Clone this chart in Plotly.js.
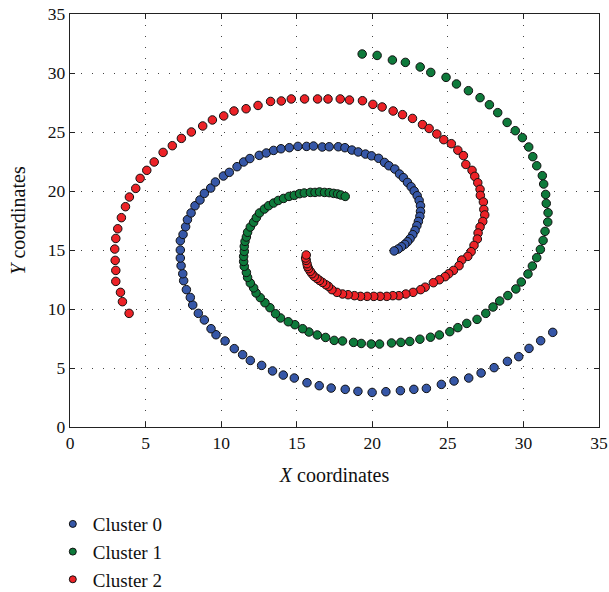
<!DOCTYPE html>
<html>
<head>
<meta charset="utf-8">
<script src="https://cdn.plot.ly/plotly-3.0.1.min.js"></script>
<style>html,body{margin:0;padding:0;background:#fff;}#chart{width:609px;height:592px;}</style>
</head>
<body>
<div id="chart"></div>
<script>
const clusterNames = ["Cluster 0", "Cluster 1", "Cluster 2"];

const cluster0 = [[31.94,8.02],[31.14,7.31],[30.37,6.66],[29.69,5.96],[28.94,5.56],[28.06,5.03],[27.2,4.58],[26.38,4.15],[25.41,3.9],[24.57,3.61],[23.58,3.27],[22.75,3.19],[21.86,3.08],[20.9,2.99],[19.99,2.93],[19.05,3.02],[18.21,3.19],[17.28,3.3],[16.49,3.5],[15.68,3.75],[14.84,4.15],[14.11,4.4],[13.4,4.75],[12.68,5.22],[11.93,5.64],[11.42,6.13],[10.87,6.64],[10.26,7.29],[9.66,7.82],[9.33,8.33],[8.89,9.07],[8.49,9.63],[8.12,10.34],[7.96,10.98],[7.7,11.64],[7.52,12.4],[7.46,12.99],[7.35,13.67],[7.3,14.32],[7.3,15.0],[7.3,15.79],[7.48,16.32],[7.65,16.97],[7.77,17.57],[8.01,18.14],[8.27,18.75],[8.6,19.24],[8.89,19.8],[9.31,20.25],[9.62,20.76],[10.15,21.27],[10.54,21.58],[11.05,22.06],[11.49,22.46],[11.9,22.75],[12.52,23.02],[12.99,23.22],[13.47,23.44],[13.96,23.58],[14.51,23.67],[15.08,23.78],[15.65,23.78],[16.11,23.81],[16.69,23.73],[17.15,23.75],[17.75,23.75],[18.19,23.67],[18.65,23.47],[19.07,23.31],[19.55,23.13],[19.95,22.98],[20.42,22.77],[20.81,22.42],[21.1,22.14],[21.49,21.86],[21.8,21.44],[22.06,21.13],[22.33,20.73],[22.57,20.36],[22.77,20.0],[22.97,19.6],[23.1,19.2],[23.19,18.75],[23.19,18.27],[23.15,17.85],[23.05,17.42],[22.95,17.06],[22.83,16.66],[22.68,16.3],[22.5,15.96],[22.33,15.7],[22.15,15.48],[21.93,15.28],[21.71,15.08],[21.45,14.92]];

const cluster1 = [[19.33,31.61],[20.32,31.49],[21.33,31.1],[22.19,30.9],[23.17,30.51],[23.87,30.05],[24.88,29.63],[25.57,29.07],[26.36,28.5],[27.13,27.91],[27.75,27.31],[28.3,26.64],[28.92,25.81],[29.46,25.11],[29.93,24.52],[30.35,23.73],[30.62,22.91],[30.88,22.14],[31.25,21.3],[31.34,20.59],[31.47,19.71],[31.51,18.95],[31.63,18.16],[31.61,17.37],[31.43,16.58],[31.3,15.81],[31.12,15.05],[30.88,14.35],[30.59,13.64],[30.3,12.97],[29.86,12.29],[29.5,11.7],[28.97,11.14],[28.43,10.68],[27.99,10.17],[27.51,9.63],[26.93,9.12],[26.25,8.78],[25.66,8.42],[25.13,8.08],[24.44,7.8],[23.85,7.61],[23.15,7.44],[22.48,7.25],[21.89,7.17],[21.27,7.12],[20.48,7.03],[19.93,7.03],[19.27,7.08],[18.76,7.17],[18.03,7.29],[17.48,7.34],[16.91,7.59],[16.36,7.8],[15.81,8.05],[15.39,8.33],[14.88,8.67],[14.44,8.92],[13.93,9.24],[13.6,9.6],[13.23,10.11],[12.9,10.53],[12.59,10.96],[12.31,11.36],[12.15,11.79],[11.93,12.2],[11.75,12.68],[11.67,13.1],[11.53,13.61],[11.49,14.03],[11.49,14.46],[11.53,14.88],[11.53,15.31],[11.58,15.73],[11.67,16.1],[11.75,16.5],[11.93,16.95],[12.15,17.35],[12.33,17.74],[12.54,18.14],[12.86,18.47],[13.14,18.75],[13.47,18.98],[13.78,19.2],[14.13,19.37],[14.49,19.54],[14.84,19.63],[15.19,19.77],[15.5,19.83],[15.9,19.88],[16.21,19.88],[16.51,19.92],[16.84,19.88],[17.15,19.86],[17.44,19.8],[17.7,19.75],[17.92,19.66],[18.21,19.54]];

const cluster2 = [[3.91,9.63],[3.47,10.62],[3.34,11.41],[3.03,12.34],[3.03,13.27],[2.99,14.12],[2.96,15.08],[3.03,15.98],[3.16,16.8],[3.4,17.74],[3.67,18.67],[3.93,19.49],[4.35,20.22],[4.64,21.07],[5.08,21.75],[5.57,22.46],[6.16,23.27],[6.77,23.84],[7.37,24.46],[8.03,25.0],[8.78,25.51],[9.42,26.02],[10.17,26.36],[10.85,26.78],[11.65,26.97],[12.44,27.25],[13.27,27.59],[13.98,27.63],[14.64,27.8],[15.52,27.8],[16.38,27.8],[17.07,27.8],[17.88,27.8],[18.49,27.71],[19.35,27.65],[20.04,27.34],[20.65,27.12],[21.38,26.78],[22.0,26.47],[22.66,26.15],[23.32,25.63],[23.76,25.3],[24.27,24.83],[24.73,24.35],[25.23,24.01],[25.66,23.46],[26.03,23.0],[26.19,22.25],[26.6,21.75],[26.78,21.24],[26.98,20.7],[27.13,20.14],[27.15,19.63],[27.35,19.07],[27.38,18.44],[27.44,17.97],[27.31,17.42],[27.13,16.95],[27.0,16.44],[26.95,15.93],[26.73,15.39],[26.54,14.86],[26.32,14.46],[25.92,14.15],[25.74,13.67],[25.37,13.27],[25.06,12.99],[24.82,12.74],[24.44,12.48],[24.04,12.23],[23.5,11.85],[23.2,11.64],[22.7,11.41],[22.22,11.27],[21.76,11.13],[21.36,11.13],[20.96,11.07],[20.52,11.07],[20.1,11.07],[19.66,11.07],[19.22,11.07],[18.82,11.13],[18.4,11.21],[18.03,11.27],[17.66,11.41],[17.33,11.64],[17.1,11.92],[16.93,12.06],[16.71,12.25],[16.51,12.42],[16.34,12.59],[16.16,12.76],[16.01,12.99],[15.9,13.19],[15.78,13.42],[15.72,13.61],[15.68,13.84],[15.63,14.12],[15.59,14.32],[15.63,14.58]];

const xTicks = [0,5,10,15,20,25,30,35];
const yTicks = [0,5,10,15,20,25,30,35];

const colors = ["#3657a7", "#0e7a3b", "#ec2227"];
const clusters = [cluster0, cluster1, cluster2];
const serif = "'Liberation Serif', 'DejaVu Serif', serif";

const traces = clusters.map((pts, i) => ({
  type: "scatter",
  mode: "markers",
  name: clusterNames[i],
  legendgroup: clusterNames[i],
  showlegend: false,
  x: pts.map(p => p[0]),
  y: pts.map(p => p[1]),
  marker: {color: colors[i], size: 8.5, line: {color: "#111", width: 1}}
}));

// legend entries with the smaller legend symbol
const legendTraces = clusterNames.map((name, i) => ({
  type: "scatter",
  mode: "markers",
  name: name,
  legendgroup: name,
  showlegend: true,
  x: [null],
  y: [null],
  marker: {color: colors[i], size: 7, line: {color: "#111", width: 1}}
}));

const axisCommon = {
  range: [0, 35],
  showgrid: true,
  gridcolor: "#444",
  griddash: "1px,10px",
  gridwidth: 1,
  zeroline: false,
  showline: true,
  linecolor: "#222",
  linewidth: 1.3,
  mirror: "ticks",
  ticks: "inside",
  ticklen: 5,
  tickcolor: "#222",
  tickfont: {family: serif, size: 17.5, color: "#111"}
};

const layout = {
  width: 609,
  height: 592,
  margin: {l: 69.5, r: 10, t: 14, b: 165, autoexpand: false},
  paper_bgcolor: "#fff",
  plot_bgcolor: "#fff",
  showlegend: true,
  font: {family: serif, color: "#111"},
  xaxis: Object.assign({}, axisCommon, {
    tickvals: xTicks,
    title: {text: "<i>X</i> coordinates", font: {family: serif, size: 20, color: "#111"}, standoff: 15}
  }),
  yaxis: Object.assign({}, axisCommon, {
    tickvals: yTicks,
    title: {text: "<i>Y</i> coordinates", font: {family: serif, size: 20, color: "#111"}, standoff: 16}
  }),
  legend: {
    x: -0.0325, y: -0.189, xanchor: "left", yanchor: "top",
    font: {family: serif, size: 19, color: "#111"},
    tracegroupgap: 0,
    itemsizing: "trace",
    bgcolor: "rgba(0,0,0,0)"
  }
};

Plotly.newPlot("chart", traces.concat(legendTraces), layout, {staticPlot: true, displayModeBar: false});
</script>
</body>
</html>
